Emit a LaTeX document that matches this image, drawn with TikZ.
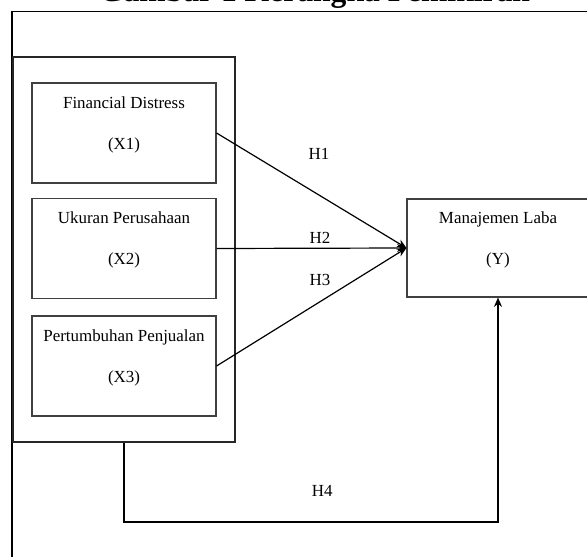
\documentclass[tikz,border=0pt]{standalone}
\usepackage{fontspec}
\setmainfont{Liberation Serif}
\usetikzlibrary{arrows.meta, fit}

\begin{document}
\begin{tikzpicture}[x=0.75pt, y=-0.75pt, >={Stealth[length=7pt, width=6pt]},
    font=\fontsize{12.7}{15.2}\selectfont,
    varbox/.style={rectangle, draw=black!75, line width=0.8pt, align=center,
        minimum width=138pt, minimum height=75pt, text depth=15.4pt},
    hyp/.style={->, line width=0.9pt}]

    \useasboundingbox (0,0) rectangle (587,557);

    % judul dan bingkai luar
    \node[font=\fontsize{23.7}{28}\bfseries\selectfont, anchor=base] (title) at (314.5,1.5) {Gambar 1 Kerangka Pemikiran};
    \draw[line width=1.3pt] (12,580) -- (12,11.5) -- (610,11.5);

    % variabel independen
    \node[varbox] (x1) at (124,133) {Financial Distress\\[15.5pt](X1)};
    \node[varbox] (x2) at (124,248.5) {Ukuran Perusahaan\\[15.5pt](X2)};
    \node[varbox] (x3) at (124,366) {Pertumbuhan Penjualan\\[15.5pt](X3)};
    \node[draw=black!85, line width=1.1pt, inner xsep=13.9pt, inner ysep=19.1pt, fit=(x1) (x2) (x3)] (grp) {};

    % variabel dependen
    \node[varbox, minimum width=136.5pt, minimum height=73.5pt] (y) at (498,248) {Manajemen Laba\\[15.5pt](Y)};

    \coordinate (c4) at (y.south |- 0,522);
\path[hyp]
        (x1.east) edge node[pos=0.54, above=23pt] {H1} (y.west)
        (x2.east) edge node[pos=0.545, above] {H2} (y.west)
        (x3.east) edge node[pos=0.545, above=8pt] {H3} (y.west)
;
    \draw[hyp] (grp.south) |- node[pos=0.765, above=15pt] {H4} (c4) -- (y.south);
\end{tikzpicture}
\end{document}
